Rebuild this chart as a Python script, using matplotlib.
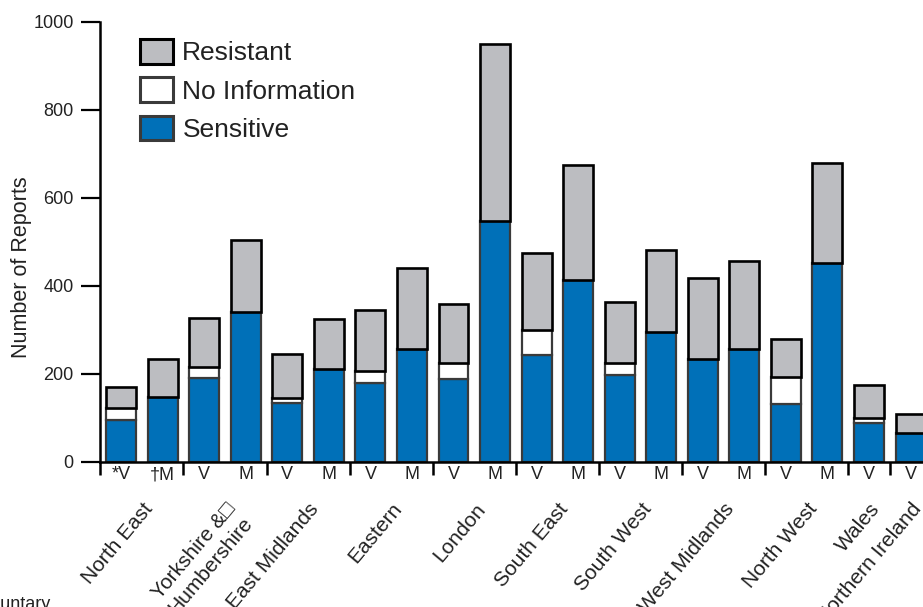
import numpy as np
import matplotlib.pyplot as plt
from matplotlib.patches import Patch
from matplotlib.transforms import blended_transform_factory

plt.rcParams['font.family'] = ['Liberation Sans', 'DejaVu Sans']

# bar data (one bar per V/M entry, left to right)
bar_labels = ['*V', '\u2020M', 'V', 'M', 'V', 'M', 'V', 'M', 'V', 'M',
              'V', 'M', 'V', 'M', 'V', 'M', 'V', 'M', 'V', 'V']
sensitive = [95, 147, 192, 342, 133, 211, 179, 256, 188, 548,
             243, 414, 197, 295, 233, 256, 132, 453, 89, 67]
no_info = [28, 0, 23, 0, 12, 0, 28, 0, 37, 0,
           58, 0, 29, 0, 0, 0, 61, 0, 10, 0]
resistant = [47, 86, 113, 163, 101, 114, 138, 184, 133, 403,
             173, 261, 138, 187, 186, 200, 87, 226, 75, 41]

regions = ['North East', 'Yorkshire &\u25a1\nHumbershire', 'East Midlands', 'Eastern',
           'London', 'South East', 'South West', 'West Midlands', 'North West',
           'Wales', 'Northern Ireland']
region_sizes = [2, 2, 2, 2, 2, 2, 2, 2, 2, 1, 1]

blue = '#0070b8'
grey = '#bcbdc1'
dark = '#3a3a3a'
text_col = '#222222'

fig = plt.figure(figsize=(9.23, 6.07), dpi=100)
ax = fig.add_axes([0.1083, 0.2389, 0.8917, 0.7249])

x = np.arange(len(sensitive))
w = 0.72
s = np.array(sensitive)
n = np.array(no_info)
r = np.array(resistant)

ax.bar(x, s, w, color=blue, edgecolor=dark, linewidth=1.6, zorder=2)
ax.bar(x, n, w, bottom=s, color='white', edgecolor=dark, linewidth=1.6, zorder=2)
ax.bar(x, r, w, bottom=s + n, color=grey, edgecolor='black', linewidth=1.9, zorder=3)

ax.set_xlim(-0.51, 19.3)
ax.set_ylim(0, 1000)
ax.set_yticks([0, 200, 400, 600, 800, 1000])
ax.tick_params(axis='y', length=14, width=1.6, labelsize=13, colors=text_col, pad=5)
ax.tick_params(axis='y', color='black')
ax.set_ylabel('Number of Reports', fontsize=15.5, color=text_col)
ax.yaxis.set_label_coords(-0.083, 0.443)

for sp in ['top', 'right']:
    ax.spines[sp].set_visible(False)
for sp in ['left', 'bottom']:
    ax.spines[sp].set_linewidth(1.8)
    ax.spines[sp].set_color('black')

# V / M labels under each bar
ax.set_xticks(x)
ax.set_xticklabels(bar_labels, fontsize=13, color=text_col)
ax.tick_params(axis='x', which='major', length=0, pad=3)

# group separators and region labels
edges = np.cumsum([0] + region_sizes) - 0.5
ax.set_xticks(edges[:-1], minor=True)
ax.tick_params(axis='x', which='minor', length=9, width=1.8, color='black', direction='out')

trans = blended_transform_factory(ax.transData, ax.transAxes)
for i, name in enumerate(regions):
    cx = (edges[i] + edges[i + 1]) / 2
    ax.text(cx, -0.085, name, transform=trans, rotation=50, ha='right', va='top',
            rotation_mode='anchor', fontsize=15, color=text_col)

handles = [Patch(facecolor=grey, edgecolor='black', linewidth=2.2, label='Resistant'),
           Patch(facecolor='white', edgecolor=dark, linewidth=2.2, label='No Information'),
           Patch(facecolor=blue, edgecolor=dark, linewidth=2.2, label='Sensitive')]
leg = ax.legend(handles=handles, loc='upper left', bbox_to_anchor=(0.036, 0.985),
                frameon=False, fontsize=19, handlelength=1.25, handleheight=1.06,
                handletextpad=0.35, labelspacing=0.45, borderaxespad=0)
for t in leg.get_texts():
    t.set_color(text_col)

fig.text(-0.034, 0.018, '*Voluntary', fontsize=13, color=text_col, va='top', ha='left')

fig.savefig('out.png', dpi=100)
